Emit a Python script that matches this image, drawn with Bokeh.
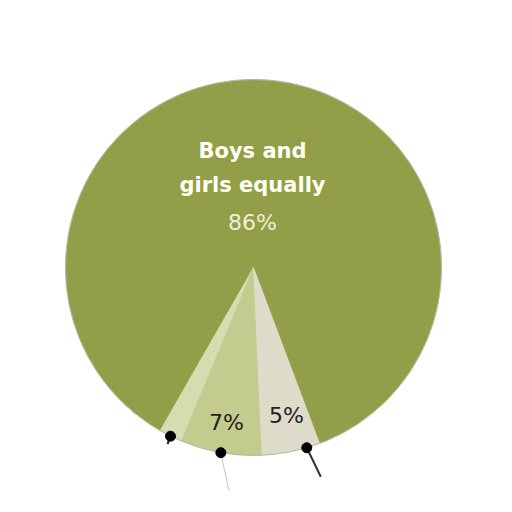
import math
from bokeh.plotting import figure
from bokeh.models import Range1d
from bokeh.embed import file_html
from bokeh.resources import INLINE
from bokeh.core.properties import value

# data
categories = ["Boys and girls equally", "Other", "Boys", "Girls"]
shares = [86, 2, 7, 5]
labels = ["86%", "", "7%", "5%"]
colors = ["#939e48", "#d6dbb0", "#c4cb8e", "#dddbca"]

# layout (page pixel coordinates -> data: x = px, y = 512 - py)
cx, cy_px, R = 253, 267, 188
cy = 512 - cy_px
start_deg = -69.4

p = figure(width=496, height=496, x_range=Range1d(0, 496), y_range=Range1d(16, 512),
           output_backend="svg", toolbar_location=None, min_border=0)
p.axis.visible = False
p.grid.visible = False
p.outline_line_color = None
p.background_fill_color = "white"

total = float(sum(shares))
angles = []
a = math.radians(start_deg)
for s in shares:
    b = a + 2 * math.pi * s / total
    angles.append((a, b))
    a = b

p.wedge(x=[cx] * len(shares), y=[cy] * len(shares), radius=R,
        start_angle=[s for s, e in angles], end_angle=[e for s, e in angles],
        fill_color=colors, line_color=colors, line_width=0.5)
p.circle(x=[cx], y=[cy], radius=R, fill_color=None, line_color="#b8b8a8", line_width=1)

# leader dots & lines for the small slices
fracs = [None, 0.5, 0.5, 0.77]
ends = [None, (-3, -8), (8, -38), (14, -29)]
lcols = [None, "#222222", "#c8c8c8", "#333333"]
lwid = [None, 2, 1, 2]
for i in range(1, len(shares)):
    s, e = angles[i]
    ang = s + (e - s) * fracs[i]
    dx, dy = cx + R * math.cos(ang), cy + R * math.sin(ang)
    ex, ey = ends[i]
    p.line([dx, dx + ex], [dy, dy + ey], line_color=lcols[i], line_width=lwid[i])
    p.scatter([dx], [dy], size=10, fill_color="black", line_color="black")

# texts
p.text(x=[252, 252], y=[512 - 150, 512 - 184], text=["Boys and", "girls equally"],
       text_font=value("DejaVu Sans"), text_font_style="bold", text_font_size="21px",
       text_color="#fffff4", text_align="center", text_baseline="alphabetic")
p.text(x=[252], y=[512 - 222], text=[labels[0]],
       text_font=value("DejaVu Sans"), text_font_size="22px",
       text_color="#eef0da", text_align="center", text_baseline="alphabetic")
p.text(x=[226, 286], y=[512 - 422, 512 - 415], text=[labels[2], labels[3]],
       text_font=value("DejaVu Sans"), text_font_size="22px",
       text_color="#222222", text_align="center", text_baseline="alphabetic")

open("out.html", "w").write(file_html(p, INLINE))
